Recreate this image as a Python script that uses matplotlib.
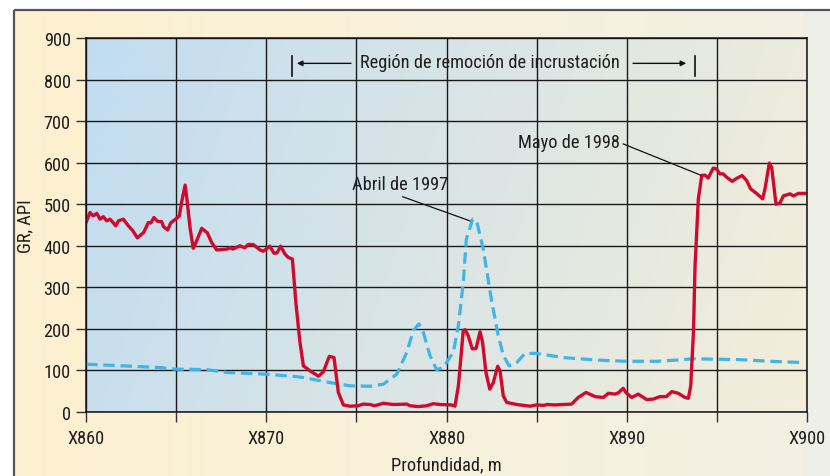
import numpy as np
import matplotlib
matplotlib.use("Agg")
import matplotlib.pyplot as plt
from matplotlib import font_manager as fm
from matplotlib.colors import to_rgb

# ---------------- data ----------------
red_x = [860.0, 860.22, 860.4, 860.6, 860.78, 860.96, 861.15, 861.33, 861.5, 861.65,
         861.8, 862.07, 862.35, 862.6, 862.85, 863.2, 863.46, 863.6, 863.77, 863.96,
         864.2, 864.3, 864.53, 864.7, 864.94, 865.18, 865.3, 865.5, 865.6, 865.77,
         865.95, 866.14, 866.42, 866.73, 866.97, 867.25, 867.8, 868.0, 868.15, 868.54,
         868.8, 869.0, 869.28, 869.65, 869.84, 870.2, 870.43, 870.6, 870.8, 871.04,
         871.22, 871.45, 871.65, 871.87, 872.06, 872.43, 872.9, 873.17, 873.5, 873.76,
         874.0, 874.28, 874.65, 875.1, 875.38, 875.76, 876.0, 876.5, 877.05, 877.8,
         877.97, 878.44, 878.9, 879.27, 879.64, 880.28, 880.47, 880.66, 880.93, 881.03,
         881.2, 881.43, 881.64, 881.86, 882.0, 882.19, 882.4, 882.6, 882.84, 882.97,
         883.15, 883.34, 883.9, 884.63, 885.0, 885.4, 885.6, 885.97, 886.48, 886.94,
         887.31, 887.74, 888.05, 888.24, 888.7, 888.98, 889.35, 889.53, 889.8, 889.97,
         890.27, 890.64, 891.1, 891.47, 891.84, 892.2, 892.5, 892.86, 893.23, 893.42,
         893.55, 893.7, 893.79, 893.97, 894.16, 894.34, 894.52, 894.8, 894.98, 895.17,
         895.35, 895.54, 895.85, 896.09, 896.4, 896.65, 896.87, 897.2, 897.54, 897.67,
         897.91, 898.04, 898.28, 898.5, 898.69, 899.06, 899.25, 899.52, 899.95]
red_y = [456, 480, 472, 478, 464, 470, 460, 464, 456, 448,
         460, 464, 448, 436, 419, 432, 456, 455, 468, 459,
         458, 446, 438, 455, 463, 472, 504, 546, 512, 444,
         394, 412, 442, 431, 408, 390, 392, 395, 392, 400,
         395, 403, 403, 390, 387, 399, 382, 383, 399, 380,
         372, 368, 260, 168, 111, 99, 86, 97, 134, 131,
         47, 17, 14, 15, 19, 18, 15, 21, 18, 19,
         15, 13, 15, 20, 18, 17, 14, 63, 196, 198,
         184, 152, 153, 193, 168, 95, 55, 71, 110, 99,
         39, 23, 18, 14, 17, 16, 18, 17, 18, 19,
         35, 47, 41, 37, 35, 45, 43, 46, 57, 46,
         35, 43, 30, 31, 37, 37, 49, 45, 35, 33,
         63, 192, 352, 512, 569, 570, 563, 587, 585, 573,
         573, 565, 555, 562, 569, 557, 537, 526, 513, 537,
         599, 589, 500, 503, 520, 525, 520, 526, 526]

blue_x = [860.0, 862.6, 864.1, 865.0, 866.7, 867.8, 870.0, 871.7, 872.06, 873.5,
          874.65, 875.76, 876.5, 877.24, 877.8, 878.16, 878.47, 878.71, 879.08, 879.45,
          879.82, 880.38, 880.66, 880.93, 881.1, 881.45, 881.67, 882.04, 882.5, 882.87,
          883.15, 883.48, 883.9, 884.35, 885.0, 886.48, 888.33, 889.99, 891.66, 892.77,
          893.7, 896.3, 897.95, 899.8]
blue_y = [115, 110, 107, 103, 102, 95, 91, 85, 83, 71,
          63, 62, 67, 91, 144, 196, 212, 192, 136, 102,
          107, 144, 208, 312, 416, 464, 460, 392, 268, 184,
          136, 111, 119, 141, 141, 131, 125, 122, 122, 125,
          128, 126, 122, 119]

x_ticks = [860, 870, 880, 890, 900]
x_tick_labels = ["X860", "X870", "X880", "X890", "X900"]
x_minor = [865, 875, 885, 895]
y_ticks = [0, 100, 200, 300, 400, 500, 600, 700, 800, 900]

# ---------------- font ----------------
names = {f.name for f in fm.fontManager.ttflist}
font = "DejaVu Sans"
stretch = "condensed"
for cand in ["Liberation Sans Narrow", "Roboto Condensed", "Open Sans Condensed"]:
    if cand in names:
        font = cand
        stretch = "normal"
        break
plt.rcParams["font.family"] = [font, "DejaVu Sans"]
plt.rcParams["font.stretch"] = stretch
FS = 13.2
TXT = "#1e1e1e"

W, H = 830, 477
fig = plt.figure(figsize=(W / 100, H / 100), dpi=100, facecolor="white")

# ---------------- figure panel background ----------------
bg = fig.add_axes([0, 0, 1, 1], zorder=-10)
bg.set_xlim(0, W)
bg.set_ylim(H, 0)
bg.axis("off")
c0 = np.array(to_rgb("#fdf0d0"))
c1 = np.array(to_rgb("#f3f0e4"))
gx = np.linspace(0, 1, 200)[None, :, None]
grad = c0 * (1 - gx) + c1 * gx
grad = np.repeat(grad, 2, axis=0)
bg.imshow(grad, extent=[14, 803, H, 11], aspect="auto", zorder=0)
bg.add_patch(plt.Rectangle((803, 11), W - 803, H - 11, color="#eef0e7", zorder=0))
bg.plot([14, W], [11, 11], color="#555555", lw=1.6, zorder=1, solid_capstyle="butt")
bg.plot([14, 14], [11, H], color="#555555", lw=1.6, zorder=1, solid_capstyle="butt")

# ---------------- main axes ----------------
L, R, T, B = 86, 807, 39, 413
ax = fig.add_axes([L / W, (H - B) / H, (R - L) / W, (B - T) / H])
ax.set_xlim(860, 900)
ax.set_ylim(0, 900)
ax.patch.set_alpha(0)

# gradient inside axes
a0 = np.array(to_rgb("#c1dcf1"))
a1 = np.array(to_rgb("#f4eeda"))
ny, nx = 100, 300
xx, yy = np.meshgrid(np.linspace(0, 1, nx), np.linspace(1, 0, ny))
t = np.clip(0.85 * xx + 0.15 * (1 - yy), 0, 1)[:, :, None]
img = a0 * (1 - t) + a1 * t
ax.imshow(img, extent=[860, 900, 0, 900], aspect="auto", zorder=0)

ax.set_xticks(x_ticks)
ax.set_xticklabels(x_tick_labels)
ax.set_xticks(x_minor, minor=True)
ax.set_yticks(y_ticks)
ax.tick_params(axis="both", which="both", direction="out", length=7, width=1,
               color="#333333", labelsize=FS, labelcolor=TXT)
ax.tick_params(axis="y", pad=4)
ax.tick_params(axis="x", pad=5)
ax.grid(True, which="major", axis="both", color="#1a1a1a", lw=1.0, zorder=1)
ax.grid(True, which="minor", axis="x", color="#1a1a1a", lw=1.0, zorder=1)
ax.set_axisbelow(False)
for s in ax.spines.values():
    s.set_color("#111111")
    s.set_linewidth(1.1)
    s.set_zorder(5)

ax.plot(blue_x, blue_y, color="#41b4e8", lw=2.3, dashes=(3.6, 1.8), zorder=3)
ax.plot(red_x, red_y, color="#cf0a2c", lw=2.4, solid_joinstyle="round", zorder=4)

ax.set_xlabel("Profundidad, m", fontsize=FS, color=TXT, labelpad=6)
ax.set_ylabel("GR, API", fontsize=FS, color=TXT, labelpad=7)

# ---------------- annotations ----------------
ax.text(882.4, 842, "Región de remoción de incrustación", ha="center", va="center",
        fontsize=FS, color=TXT, zorder=6)
ax.plot([871.42, 871.42], [809, 857], color="#111111", lw=1.2, zorder=6)
ax.plot([893.79, 893.79], [809, 857], color="#111111", lw=1.2, zorder=6)
ax.annotate("", xy=(871.7, 839), xytext=(874.7, 839),
            arrowprops=dict(arrowstyle="-|>", color="#111111", lw=1.0,
                            mutation_scale=8, shrinkA=0, shrinkB=0), zorder=6)
ax.annotate("", xy=(893.3, 839), xytext=(890.35, 839),
            arrowprops=dict(arrowstyle="-|>", color="#111111", lw=1.0,
                            mutation_scale=8, shrinkA=0, shrinkB=0), zorder=6)

ax.text(874.74, 549, "Abril de 1997", ha="left", va="center", fontsize=FS,
        color=TXT, zorder=6)
ax.plot([877.57, 881.3], [518, 460], color="#111111", lw=0.9, zorder=6)

ax.text(889.63, 649, "Mayo de 1998", ha="right", va="center", fontsize=FS,
        color=TXT, zorder=6)
ax.plot([889.81, 894.1], [645, 570], color="#111111", lw=0.9, zorder=6)

fig.savefig("out.png", dpi=100, facecolor="white")
